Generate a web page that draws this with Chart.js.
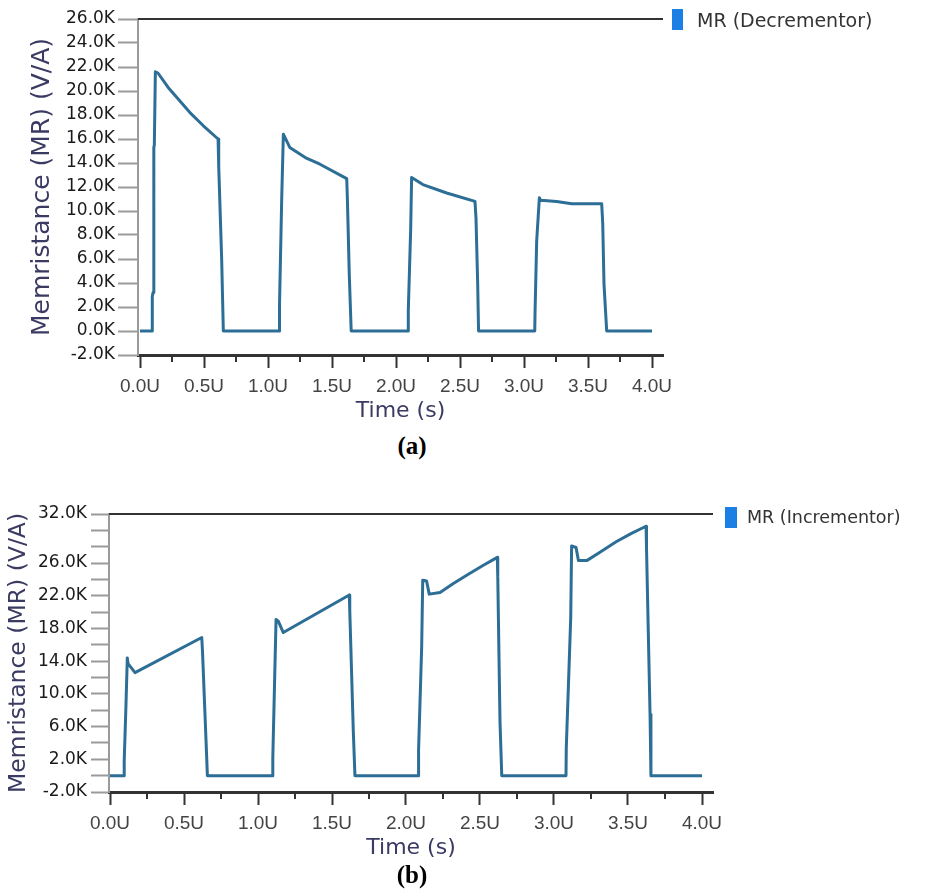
<!DOCTYPE html>
<html>
<head>
<meta charset="utf-8">
<script src="https://cdn.jsdelivr.net/npm/chart.js@4.4.1/dist/chart.umd.min.js"></script>
<style>
  body { margin: 0; background: #fff; width: 930px; height: 891px; position: relative; overflow: hidden; }
  .wrap { position: absolute; left: 0; width: 930px; }
  #wrap-a { top: 0; height: 430px; }
  #wrap-b { top: 470px; height: 400px; }
  .legend { position: absolute; font-family: "DejaVu Sans", sans-serif; color: #333; white-space: nowrap; }
  .legend .swatch { position: absolute; background: #1b7fe3; }
  .caption { position: absolute; width: 100px; text-align: center; font-family: "Liberation Serif", serif; font-weight: bold; font-size: 25px; color: #000; }
</style>
</head>
<body>
<div class="wrap" id="wrap-a"><canvas id="chart-a" width="930" height="430"></canvas></div>
<div class="wrap" id="wrap-b"><canvas id="chart-b" width="930" height="400"></canvas></div>

<div class="legend" style="left:672px;top:9px;">
  <span class="swatch" style="left:0;top:0;width:11px;height:21px;"></span>
</div>
<div class="legend" style="left:697px;top:8px;font-size:19px;line-height:24px;">MR (Decrementor)</div>
<div class="legend" style="left:725px;top:507px;">
  <span class="swatch" style="left:0;top:0;width:12px;height:21px;"></span>
</div>
<div class="legend" style="left:747px;top:506px;font-size:17.5px;line-height:22px;">MR (Incrementor)</div>

<div class="caption" style="left:362px;top:432px;">(a)</div>
<div class="caption" style="left:362px;top:861px;">(b)</div>

<script>
  // ─── Data (time in µs "U", memristance in kV/A "K") ───
  const decTimes = [0, 0.094, 0.096, 0.102, 0.108, 0.112, 0.12, 0.14, 0.22, 0.39, 0.495, 0.61, 0.615, 0.638, 0.651,
                    1.088, 1.090, 1.107, 1.12, 1.17, 1.30, 1.406, 1.615, 1.62, 1.635, 1.65,
                    2.094, 2.096, 2.115, 2.122, 2.21, 2.396, 2.617, 2.625, 2.638, 2.645,
                    3.084, 3.086, 3.099, 3.12, 3.13, 3.255, 3.373, 3.607, 3.615, 3.625, 3.646, 4.0];
  const decValues = [0, 0, 2.9, 3.2, 15.3, 15.5, 21.6, 21.5, 20.3, 18.2, 17.1, 16.0, 13.7, 6.0, 0,
                     0, 2.2, 11.0, 16.4, 15.3, 14.4, 13.9, 12.7, 11.1, 4.7, 0,
                     0, 1.7, 8.6, 12.8, 12.2, 11.5, 10.8, 9.4, 4.0, 0,
                     0, 1.4, 7.5, 11.1, 10.9, 10.8, 10.6, 10.6, 9.0, 3.9, 0, 0];

  const incTimes = [0, 0.095, 0.096, 0.108, 0.117, 0.122, 0.169, 0.62, 0.625, 0.649, 0.658,
                    1.099, 1.100, 1.113, 1.122, 1.137, 1.171, 1.617, 1.62, 1.644, 1.655,
                    2.083, 2.085, 2.106, 2.113, 2.139, 2.157, 2.23, 2.32, 2.41, 2.52, 2.617, 2.62, 2.635, 2.647,
                    3.081, 3.083, 3.113, 3.119, 3.149, 3.165, 3.221, 3.30, 3.42, 3.52, 3.622, 3.625, 3.637, 3.649, 3.655, 4.0];
  const incValues = [0, 0, 1.8, 8.7, 14.4, 13.7, 12.6, 16.9, 15.2, 4.2, 0,
                     0, 2.1, 12.2, 19.1, 18.9, 17.5, 22.1, 20.2, 5.4, 0,
                     0, 3.2, 15.8, 23.9, 23.8, 22.2, 22.4, 23.5, 24.5, 25.7, 26.7, 24.4, 6.7, 0,
                     0, 3.4, 19.3, 28.1, 27.9, 26.3, 26.3, 27.2, 28.6, 29.6, 30.5, 27.9, 17.7, 7.5, 0, 0];

  const xTicks = [0, 0.5, 1.0, 1.5, 2.0, 2.5, 3.0, 3.5, 4.0];
  const xMinorTicks = [0.25, 0.75, 1.25, 1.75, 2.25, 2.75, 3.25, 3.75];
  const decYTicks = [-2, 0, 2, 4, 6, 8, 10, 12, 14, 16, 18, 20, 22, 24, 26];
  const incYTicks = [-2, 0, 2, 4, 6, 8, 10, 12, 14, 16, 18, 20, 22, 24, 26, 28, 30, 32];
  const incYLabeled = [-2, 2, 6, 10, 14, 18, 22, 26, 32];

  const LINE = '#2d6e96';
  const TITLE = '#3a3a62';

  // ─── Frame plugin: top rule and short minor ticks on the time axis ───
  const framePlugin = {
    id: 'frame',
    afterDraw(chart, args, opts) {
      const { ctx, chartArea } = chart;
      const x = chart.scales.x;
      ctx.save();
      ctx.strokeStyle = '#333';
      ctx.lineWidth = 2;
      ctx.beginPath();
      ctx.moveTo(chartArea.left, chartArea.top);
      ctx.lineTo(chartArea.right, chartArea.top);
      ctx.stroke();
      ctx.beginPath();
      opts.minor.forEach(v => {
        const px = Math.round(x.getPixelForValue(v));
        ctx.moveTo(px, chartArea.bottom);
        ctx.lineTo(px, chartArea.bottom + opts.minorLength);
      });
      ctx.stroke();
      ctx.restore();
    },
  };

  function makeChart(id, times, values, g) {
    const points = times.map((t, i) => ({ x: t, y: values[i] }));
    return new Chart(document.getElementById(id), {
      type: 'line',
      data: {
        datasets: [{
          data: points,
          borderColor: LINE,
          borderWidth: 3,
          pointRadius: 0,
          tension: 0,
          fill: false,
          borderJoinStyle: 'round',
        }],
      },
      plugins: [framePlugin],
      options: {
        responsive: false,
        animation: false,
        events: [],
        layout: { padding: { left: 0, top: g.top, right: g.right, bottom: 0 } },
        plugins: {
          legend: { display: false },
          tooltip: { enabled: false },
          frame: { minor: xMinorTicks, minorLength: 7 },
        },
        scales: {
          x: {
            type: 'linear',
            min: g.xMin,
            max: g.xMax,
            afterBuildTicks: s => { s.ticks = xTicks.map(v => ({ value: v })); },
            afterFit: s => { s.height = g.xHeight; },
            ticks: {
              callback: v => v.toFixed(1) + 'U',
              font: { family: 'Liberation Sans', size: 19 },
              color: '#444',
              padding: 7,
              maxRotation: 0,
              autoSkip: false,
            },
            grid: { drawOnChartArea: false, tickLength: 13, tickColor: '#333', tickWidth: 2 },
            border: { color: '#333', width: 3 },
            title: {
              display: true, text: 'Time (s)', color: TITLE,
              font: { family: 'DejaVu Sans', size: g.xTitleSize },
              padding: { top: 0, bottom: g.xTitlePad },
            },
          },
          y: {
            type: 'linear',
            min: g.yMin,
            max: g.yMax,
            afterBuildTicks: s => { s.ticks = g.yTicks.map(v => ({ value: v })); },
            afterFit: s => { s.width = g.yWidth; },
            ticks: {
              callback: v => (g.yLabeled.includes(v) ? v.toFixed(1) + 'K' : ''),
              font: { family: 'DejaVu Sans', size: 17 },
              color: '#1a1a1a',
              padding: g.yPad,
              autoSkip: false,
            },
            grid: { drawOnChartArea: false, tickLength: g.yTickLen, tickColor: '#9a9a9a', tickWidth: 2 },
            border: { color: '#9a9a9a', width: 2 },
            title: {
              display: true, text: 'Memristance (MR) (V/A)', color: TITLE,
              font: { family: 'DejaVu Sans', size: g.yTitleSize },
              padding: { top: g.yTitlePad },
            },
          },
        },
      },
    });
  }

  makeChart('chart-a', decTimes, decValues, {
    top: 19, right: 267, xHeight: 75, yWidth: 138,
    xMin: -2 / 128, xMax: 523 / 128,
    yMin: -2, yMax: 26, yTicks: decYTicks, yLabeled: decYTicks,
    yPad: 3, yTickLen: 20, yTitleSize: 25, yTitlePad: 27,
    xTitleSize: 22, xTitlePad: 6,
  });

  makeChart('chart-b', incTimes, incValues, {
    top: 44, right: 217, xHeight: 78, yWidth: 109,
    xMin: -1 / 148, xMax: 603 / 148,
    yMin: -2, yMax: 32, yTicks: incYTicks, yLabeled: incYLabeled,
    yPad: 4, yTickLen: 18, yTitleSize: 23.5, yTitlePad: 5,
    xTitleSize: 22, xTitlePad: 9,
  });
</script>
</body>
</html>
